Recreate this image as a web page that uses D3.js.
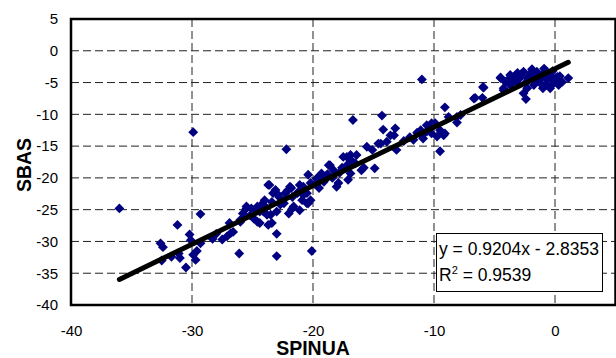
<!DOCTYPE html>
<html>
<head>
<meta charset="utf-8">
<script src="https://cdn.jsdelivr.net/npm/d3@7"></script>
<style>
  body { margin: 0; background: #fff; }
  text { font-family: "Liberation Sans", Arial, sans-serif; fill: #000; }
</style>
</head>
<body>
<div id="chart"></div>
<script>
// SPINUA (x) vs SBAS (y) values
const spinua = [
  -36.0, -32.6, -32.4, -32.5, -31.7, -31.2, -31.1, -31.0, -30.5, -30.2, -30.1, -29.9, -29.7, -29.6,
  -29.9, -29.3, -29.3, -28.3, -28.0, -27.5, -27.1, -26.9, -26.8, -26.6, -26.1, -26.0, -26.0,
  -25.5, -25.5, -25.1, -24.9, -24.6, -24.6, -24.4, -24.4, -24.1, -24.0, -23.8, -23.7, -23.7, -23.6,
  -23.5, -23.4, -23.3, -23.1, -23.0, -23.0, -23.0, -22.8, -22.7, -22.4, -22.3, -22.2, -22.0, -21.9,
  -21.7, -21.7, -21.6, -21.3, -21.2, -21.1, -21.1, -20.9, -20.8, -20.8, -20.5, -20.5, -20.4, -20.4,
  -20.2, -20.2, -20.1,
  -25.8, -25.2, -24.8, -24.2, -23.9, -23.4, -22.9, -22.5, -22.1, -21.8,
  -19.7, -19.5, -19.4, -19.3, -19.0, -18.7, -18.6, -18.3, -18.05, -17.9, -17.5, -17.3, -17.2, -17.2,
  -17.1, -16.9, -16.9, -16.7, -16.5, -16.4, -16.0, -15.8, -15.55, -15.1, -14.9,
  -19.8, -19.1, -18.8, -18.4, -17.8, -17.6, -16.8,
  -14.6, -14.4, -14.3, -14.2, -13.9, -13.6, -13.3, -13.2, -13.1, -11.7, -11.1, -11.0, -11.0, -10.9,
  -10.6, -10.6, -10.2, -10.2, -9.9, -9.75, -9.5, -9.5, -9.2, -9.1, -9.1, -8.8, -8.1, -8.1, -7.8,
  -12.5, -12.0, -11.4, -10.4,
  -6.7, -6.6, -6.0, -5.95, -5.9, -4.5, -4.25, -2.4,
  -4.5, -4.25, -4.1, -3.7, -3.7, -3.4, -3.1, -3.1, -2.9, -2.6, -2.6, -2.3, -2.3, -2.0, -1.8, -1.75,
  -1.5, -1.2, -1.2, -1.0, -0.96, -0.65, -0.65, -0.4, -0.4, -0.1, 0.0, 0.2, 0.3, 0.6, 1.1,
  -3.9, -3.3, -2.8, -2.1, -1.6, -1.4, -0.8, -0.2, -1.9, -0.9, -2.4, -3.5, -0.3, 0.4
];
const sbas = [
  -24.8, -30.3, -30.9, -33.0, -32.4, -27.4, -31.9, -32.6, -34.1, -28.9, -29.8, -32.1, -32.9, -31.5,
  -12.8, -25.7, -30.3, -29.6, -28.8, -29.7, -29.2, -27.1, -28.7, -28.5, -31.9, -26.6, -26.9,
  -24.5, -24.8, -24.8, -26.4, -24.5, -26.9, -25.3, -27.1, -25.3, -23.5, -25.8, -21.1, -27.4, -21.1,
  -25.8, -27.1, -22.4, -21.9, -25.3, -28.8, -32.3, -23.0, -24.2, -24.0, -22.4, -15.5, -25.6, -21.4,
  -23.0, -24.8, -24.5, -22.4, -22.2, -21.1, -25.1, -23.5, -21.4, -22.7, -22.4, -24.0, -19.5, -24.0,
  -20.8, -23.5, -31.5,
  -25.6, -25.9, -25.0, -24.1, -24.6, -23.8, -22.6, -23.6, -22.0, -21.6,
  -20.1, -21.6, -19.7, -19.3, -19.8, -18.0, -18.0, -18.8, -21.4, -20.8, -16.7, -18.5, -16.7, -18.0,
  -20.3, -16.4, -19.3, -10.9, -17.7, -16.4, -18.8, -18.4, -15.1, -15.6, -18.5,
  -21.0, -20.6, -19.4, -20.0, -19.2, -18.4, -17.3,
  -14.6, -14.6, -10.2, -12.4, -14.3, -13.3, -13.3, -12.2, -15.6, -14.0, -12.5, -13.3, -4.5, -13.8,
  -11.7, -12.7, -11.4, -13.0, -11.4, -13.5, -12.5, -15.8, -13.3, -13.0, -8.9, -10.4, -10.4, -11.3, -10.1,
  -14.2, -13.6, -12.9, -12.2,
  -7.5, -7.4, -7.4, -5.7, -5.8, -4.3, -6.2, -7.6,
  -4.2, -5.9, -4.9, -3.8, -5.4, -4.3, -3.5, -5.1, -4.3, -3.3, -6.7, -4.3, -5.9, -3.5, -4.3, -5.4,
  -3.3, -4.3, -5.1, -5.9, -3.5, -4.6, -5.4, -3.8, -5.9, -5.1, -4.6, -4.1, -5.4, -4.9, -4.3,
  -4.6, -3.9, -3.7, -4.0, -3.9, -4.8, -3.9, -3.2, -2.9, -2.8, -5.0, -4.9, -4.3, -4.0
];

const xTicks = [-40, -30, -20, -10, 0];
const yTicks = [5, 0, -5, -10, -15, -20, -25, -30, -35, -40];
const xGrid = [-30, -20, -10, 0];
const yGrid = [0, -5, -10, -15, -20, -25, -30, -35];

const slope = 0.9204;
const intercept = -2.8353;
const rSquared = 0.9539;
const fitRange = [-36, 1.1];

const width = 616, height = 358;
const plotL = 71, plotR = 615.5, plotT = 19, plotB = 305;

const svg = d3.select("#chart").append("svg")
  .attr("width", width)
  .attr("height", height);

const x = d3.scaleLinear().domain([-40, 5]).range([plotL, plotR]);
const y = d3.scaleLinear().domain([-40, 5]).range([plotB, plotT]);

// dashed gridlines
svg.append("g")
  .selectAll("line")
  .data(xGrid)
  .enter().append("line")
  .attr("x1", d => x(d)).attr("x2", d => x(d))
  .attr("y1", plotT).attr("y2", plotB)
  .attr("stroke", "#222")
  .attr("stroke-width", 1)
  .attr("stroke-dasharray", "8,4");

svg.append("g")
  .selectAll("line")
  .data(yGrid)
  .enter().append("line")
  .attr("x1", plotL).attr("x2", plotR)
  .attr("y1", d => y(d)).attr("y2", d => y(d))
  .attr("stroke", "#222")
  .attr("stroke-width", 1)
  .attr("stroke-dasharray", "8,4");

// tick labels via axes (plain hyphen for negatives, like the original)
const fmt = d => String(d);
const xAxis = svg.append("g")
  .attr("transform", `translate(0,${plotB})`)
  .call(d3.axisBottom(x).tickValues(xTicks).tickFormat(fmt).tickSize(0).tickPadding(20));
const yAxis = svg.append("g")
  .attr("transform", `translate(${plotL},0)`)
  .call(d3.axisLeft(y).tickValues(yTicks).tickFormat(fmt).tickSize(0).tickPadding(13));
[xAxis, yAxis].forEach(a => {
  a.select(".domain").remove();
  a.selectAll("text")
    .style("font-family", '"Liberation Sans", Arial, sans-serif')
    .style("font-size", "15px")
    .attr("fill", "#000");
});

// points as diamonds
const pts = spinua.map((v, i) => [v, sbas[i]]);
svg.append("g")
  .selectAll("path")
  .data(pts)
  .enter().append("path")
  .attr("d", d3.symbol().type(d3.symbolDiamond2).size(62))
  .attr("transform", d => `translate(${x(d[0])},${y(d[1])})`)
  .attr("fill", "#000080");

// trend line
const line = d3.line().x(d => x(d)).y(d => y(slope * d + intercept));
svg.append("path")
  .attr("d", line(fitRange))
  .attr("fill", "none")
  .attr("stroke", "#000")
  .attr("stroke-width", 5)
  .attr("stroke-linecap", "round");

// plot frame
svg.append("rect")
  .attr("x", plotL).attr("y", plotT)
  .attr("width", plotR - plotL).attr("height", plotB - plotT)
  .attr("fill", "none")
  .attr("stroke", "#000")
  .attr("stroke-width", 2.5);

// equation box
const lg = svg.append("g");
lg.append("rect")
  .attr("x", 436.5).attr("y", 233.5)
  .attr("width", 166).attr("height", 58)
  .attr("fill", "#fff")
  .attr("stroke", "#000")
  .attr("stroke-width", 1);
lg.append("text")
  .attr("x", 439).attr("y", 255)
  .style("font-size", "17.5px")
  .text(`y = ${slope}x - ${Math.abs(intercept)}`);
const r2 = lg.append("text")
  .attr("x", 439).attr("y", 281)
  .style("font-size", "17.5px");
r2.append("tspan").text("R");
r2.append("tspan").attr("dy", -7).style("font-size", "11px").text("2");
r2.append("tspan").attr("dy", 7).text(` = ${rSquared}`);

// axis titles
svg.append("text")
  .attr("x", 313).attr("y", 355)
  .attr("text-anchor", "middle")
  .style("font-size", "19.5px")
  .style("font-weight", "bold")
  .text("SPINUA");
svg.append("text")
  .attr("transform", "translate(31,165) rotate(-90)")
  .attr("text-anchor", "middle")
  .style("font-size", "19.5px")
  .style("font-weight", "bold")
  .text("SBAS");
</script>
</body>
</html>
